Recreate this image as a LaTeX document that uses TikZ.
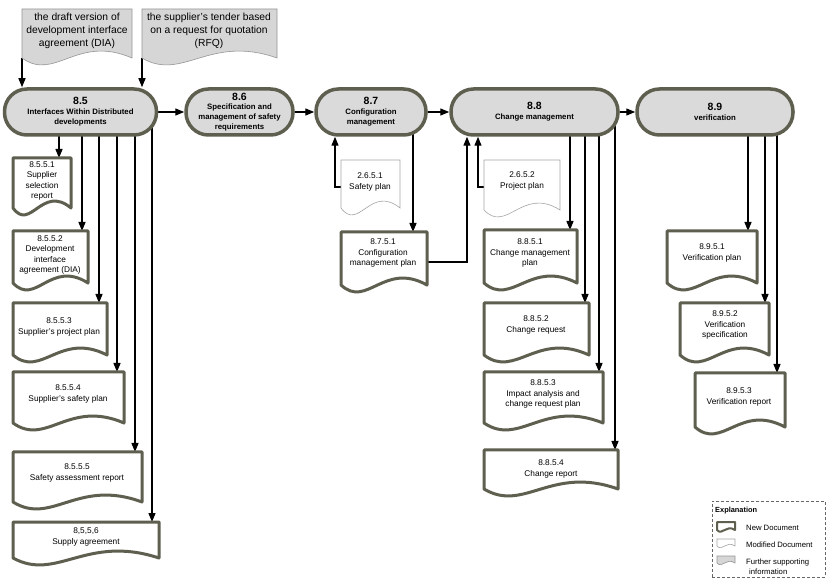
\documentclass[tikz,border=0pt]{standalone}
\usepackage{fontspec}
\setmainfont{Liberation Sans}
\usetikzlibrary{arrows.meta,calc}
\definecolor{edge}{RGB}{95,95,80}
\definecolor{pillfill}{RGB}{218,218,218}
\definecolor{supfill}{RGB}{214,214,214}
\definecolor{supedge}{RGB}{150,150,150}
\definecolor{modedge}{RGB}{165,165,165}
\pgfdeclarelayer{bg}\pgfsetlayers{bg,main}
\tikzset{
 proc/.style={draw=edge, fill=pillfill, line width=3.5pt, rounded corners=22.5pt, minimum height=46pt, inner sep=0pt, align=center, font=\fontsize{7.8}{10}\selectfont\bfseries},
 newdoc/.style={draw=edge, fill=white, line width=3pt, line join=round},
 moddoc/.style={draw=modedge, fill=white, line width=0.6pt},
 supdoc/.style={draw=supedge, fill=supfill, line width=0.6pt},
 doctext/.style={align=center, font=\fontsize{8.3}{10.5}\selectfont, inner sep=0pt},
 suptext/.style={align=center, font=\fontsize{10.3}{13}\selectfont, inner sep=0pt},
 legtext/.style={align=left, font=\fontsize{7.7}{10}\selectfont, inner sep=0pt, anchor=west},
 arr/.style={line width=1.3pt, -{Triangle[length=9pt,width=7pt]}},
}
\def\wv{24}
\newcommand\mkdoc[6]{%
 \pgfmathsetmacro\dw{#5-#3}\pgfmathsetmacro\dh{#6-#4}%
 \node[inner sep=0pt, outer sep=0pt, minimum width=\dw pt, minimum height=\dh pt, anchor=north west] (#1) at (#3,#4) {};%
 \draw[#2] (#1.north west) -- (#1.north east) -- (#1.south east)
   .. controls ($(#1.south west)!0.5!(#1.south east)+(0,-\wv)$) and ($(#1.south west)!0.3!(#1.south east)+(0,\wv)$) .. (#1.south west) -- cycle;%
}
\newcommand\pnum[1]{{\fontsize{10.5}{12}\selectfont #1}}
\begin{document}
\begin{tikzpicture}[x=1pt,y=-1pt]
\useasboundingbox (0,0) rectangle (828,585);
\begin{pgfonlayer}{bg}
\fill[white] (0,0) rectangle (828,585);
\end{pgfonlayer}

% process pills
\node[proc, minimum width=152pt] (p85) at (80.5,112) {\pnum{8.5}\\Interfaces Within Distributed\\developments};
\node[proc, minimum width=107pt] (p86) at (239.5,112) {\pnum{8.6}\\[-1pt]Specification and\\management of safety\\requirements};
\node[proc, minimum width=110pt] (p87) at (371,112) {\pnum{8.7}\\Configuration\\management};
\node[proc, minimum width=167pt] (p88) at (534.5,112) {\pnum{8.8}\\Change management};
\node[proc, minimum width=156pt] (p89) at (715,112) {\pnum{8.9}\\verification};

% supporting documents
\mkdoc{sA}{supdoc}{22}{9}{132}{58}
\mkdoc{sB}{supdoc}{142}{9}{277}{58}
\node[suptext] (tsA) at (77,31) {the draft version of\\development interface\\agreement (DIA)};
\node[suptext] (tsB) at (209,31) {the supplier's tender based\\on a request for quotation\\(RFQ)};

% 8.5 outputs
\mkdoc{d1}{newdoc}{13}{158}{71}{208}
\mkdoc{d2}{newdoc}{13}{231}{88}{283}
\mkdoc{d3}{newdoc}{13}{303}{107}{355}
\mkdoc{d4}{newdoc}{13}{372}{124}{423}
\mkdoc{d5}{newdoc}{13}{452}{142}{502}
\mkdoc{d6}{newdoc}{13}{522}{159}{558}
\node[doctext] (td1) at (42,181) {8.5.5.1\\Supplier\\selection\\report};
\node[doctext] (td2) at (50,255) {8.5.5.2\\Development\\interface\\agreement (DIA)};
\node[doctext] (td3) at (59,327) {8.5.5.3\\Supplier's project plan};
\node[doctext] (td4) at (68,394) {8.5.5.4\\Supplier's safety plan};
\node[doctext] (td5) at (77,473) {8.5.5.5\\Safety assessment report};
\node[doctext] (td6) at (86,537) {8,5,5,6\\Supply agreement};

% 8.7 / 8.8 inputs and outputs
\mkdoc{m1}{moddoc}{341}{160}{400}{208}
\mkdoc{m2}{moddoc}{484}{160}{560}{210}
\node[doctext] (tm1) at (370,182) {2.6.5.1\\Safety plan};
\node[doctext] (tm2) at (522,181) {2.6.5.2\\Project plan};
\mkdoc{c1}{newdoc}{341}{232}{427}{285}
\node[doctext] (tc1) at (383,253) {8.7.5.1\\Configuration\\management plan};

\mkdoc{e1}{newdoc}{484}{230}{577}{283}
\mkdoc{e2}{newdoc}{484}{303}{589}{355}
\mkdoc{e3}{newdoc}{484}{372}{603}{423}
\mkdoc{e4}{newdoc}{484}{450}{618}{489}
\node[doctext] (te1) at (530,253) {8.8.5.1\\Change management\\plan};
\node[doctext] (te2) at (536,325) {8.8.5.2\\Change request};
\node[doctext] (te3) at (543,394) {8.8.5.3\\Impact analysis and\\change request plan};
\node[doctext] (te4) at (551,469) {8.8.5.4\\Change report};

% 8.9 outputs
\mkdoc{v1}{newdoc}{667}{231}{757}{283}
\mkdoc{v2}{newdoc}{680}{303}{769}{355}
\mkdoc{v3}{newdoc}{695}{373}{785}{427}
\node[doctext] (tv1) at (712,253) {8.9.5.1\\Verification plan};
\node[doctext] (tv2) at (725,325) {8.9.5.2\\Verification\\specification};
\node[doctext] (tv3) at (739,397) {8.9.5.3\\Verification report};

% arrow tip coordinates
\coordinate (a1) at ($(d1.north east)+(-12,0)$);
\coordinate (a2) at ($(d2.north east)+(-6,0)$);
\coordinate (a3) at ($(d3.north east)+(-8,0)$);
\coordinate (a4) at ($(d4.north east)+(-7,0)$);
\coordinate (a5) at ($(d5.north east)+(-7,0)$);
\coordinate (a6) at ($(d6.north east)+(-7,0)$);
\coordinate (ac) at ($(c1.north east)+(-14,0)$);
\coordinate (b1) at ($(e1.north east)+(-7,0)$);
\coordinate (b2) at ($(e2.north east)+(-4,0)$);
\coordinate (b3) at ($(e3.north east)+(-4,0)$);
\coordinate (b4) at ($(e4.north east)+(-3,0)$);
\coordinate (w1) at ($(v1.north east)+(-9,0)$);
\coordinate (w2) at ($(v2.north east)+(-4,0)$);
\coordinate (w3) at ($(v3.north east)+(-8,0)$);
\coordinate (m1c) at ($(m1.north west)+(0,27)$);
\coordinate (m1k) at ($(m1c)+(-6,0)$);
\coordinate (m2c) at ($(m2.north west)+(0,27)$);
\coordinate (m2k) at ($(m2c)+(-6,0)$);
\coordinate (c1c) at ($(c1.north east)+(0,30)$);
\coordinate (c1k) at (467,0);

\begin{pgfonlayer}{bg}
\draw[arr] (sA.south west) -- (sA.south west |- p85.north);
\draw[arr] (sB.south west) -- (sB.south west |- p85.north);
\draw[arr] (p85.east) -- (p86.west);
\draw[arr] (p86.east) -- (p87.west);
\draw[arr] (p87.east) -- (p88.west);
\draw[arr] (p88.east) -- (p89.west);
\foreach \t in {a1,a2,a3,a4,a5,a6} \draw[arr] (p85.center -| \t) -- (\t);
\draw[arr] (p87.center -| ac) -- (ac);
\foreach \t in {b1,b2,b3,b4} \draw[arr] (p88.center -| \t) -- (\t);
\foreach \t in {w1,w2,w3} \draw[arr] (p89.center -| \t) -- (\t);
\draw[arr] (m1c) -- (m1k) -- (m1k |- p87.south);
\draw[arr] (m2c) -- (m2k) -- (m2k |- p88.south);
\draw[arr] (c1c) -- (c1c -| c1k) -- (c1k |- p88.south);
\end{pgfonlayer}

% legend
\node[draw=black!60, dash pattern=on 3pt off 2pt, line width=0.7pt, minimum width=113pt, minimum height=76pt, inner sep=0pt, anchor=north west] (leg) at (712,501) {};
\node[font=\fontsize{7.4}{9}\selectfont\bfseries, inner sep=0pt, anchor=west] (legt) at (715,511) {Explanation};
\def\wv{6}
\mkdoc{l1}{newdoc, line width=2pt}{717}{522}{735}{530}
\mkdoc{l2}{moddoc}{717}{539}{735}{546}
\mkdoc{l3}{supdoc}{717}{556}{735}{563}
\node[legtext] (lt1) at (746,528) {New Document};
\node[legtext] (lt2) at (746,545) {Modified Document};
\node[legtext] (lt3) at (746,566.5) {Further supporting\\\hspace*{3pt}information};
\end{tikzpicture}
\end{document}
